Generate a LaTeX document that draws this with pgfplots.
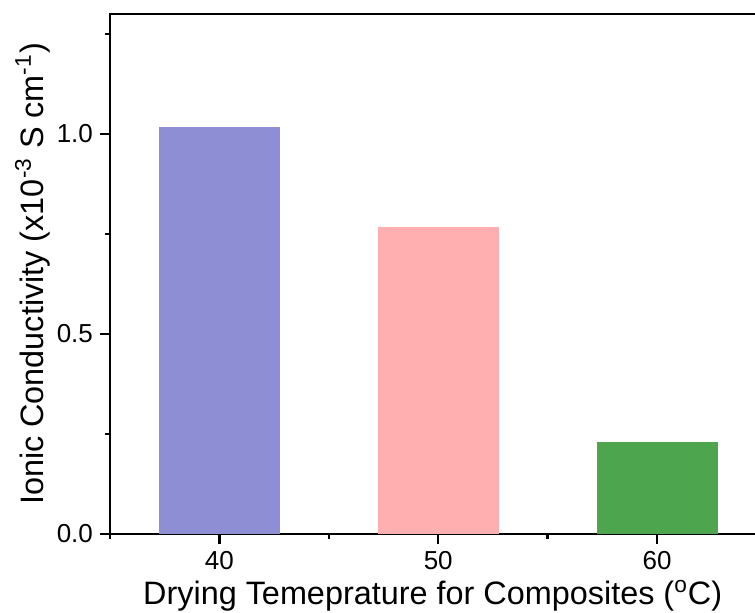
\documentclass[border=0pt]{standalone}
\usepackage{fontspec}
\setmainfont{Liberation Sans}
\usepackage{pgfplots}
\pgfplotsset{compat=1.18}

\definecolor{barblue}{RGB}{142,142,212}
\definecolor{barpink}{RGB}{255,175,175}
\definecolor{bargreen}{RGB}{77,166,77}

\begin{document}
\begin{tikzpicture}
\useasboundingbox (-55pt,-39.5pt) rectangle (322.5pt,267pt);
\clip (-55pt,-39.5pt) rectangle (322.5pt,267pt);
\begin{axis}[
	at={(0,0)}, anchor=south west,
	scale only axis,
	width=328.25pt, height=260pt,
	xmin=35, xmax=65, ymin=0, ymax=1.3,
	xtick={40,50,60}, xticklabels={40,50,60},
	minor xtick={35,45,55,65},
	ytick={0,0.5,1.0}, yticklabels={0.0,0.5,1.0},
	minor ytick={0.25,0.75,1.25},
	tick align=outside, tick pos=left,
	major tick length=5pt, minor tick length=2.5pt,
	every tick/.style={black, line width=1.2pt},
	axis line style={line width=1.35pt},
	tick label style={font=\fontsize{13}{14}\selectfont},
	label style={font=\fontsize{16.2}{18}\selectfont},
	xlabel={Drying Temeprature for Composites (\textsuperscript{o}C)},
	ylabel={Ionic Conductivity (x10\textsuperscript{-3} S cm\textsuperscript{-1})},
	xlabel style={at={(axis description cs:0.4915,-0.1365)}, anchor=base},
	ylabel style={at={(axis description cs:-0.118,0.5)}, anchor=center, rotate=0},
	ybar, bar width=60.5pt,
]
\addplot[bar shift=0pt, fill=barblue, draw=none] coordinates {(40,1.017)};
\addplot[bar shift=0pt, fill=barpink, draw=none] coordinates {(50,0.768)};
\addplot[bar shift=0pt, fill=bargreen, draw=none] coordinates {(60,0.229)};
\end{axis}
\end{tikzpicture}
\end{document}
